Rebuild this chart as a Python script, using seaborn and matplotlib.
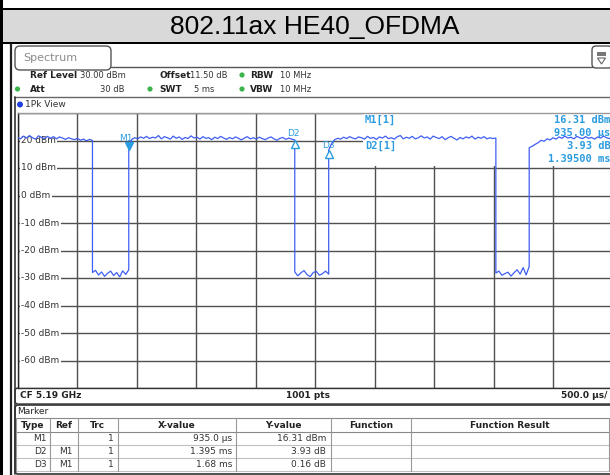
import numpy as np
import pandas as pd
import matplotlib
matplotlib.use("Agg")
import matplotlib.pyplot as plt
import matplotlib.transforms as mtransforms
from matplotlib.patches import Rectangle, FancyBboxPatch, Circle, Polygon
import seaborn as sns

# ---------------- data ----------------
title = "802.11ax HE40_OFDMA"
seg_start_us = [0, 630, 935, 2330, 2615, 4020, 4300]
seg_end_us = [630, 935, 2330, 2615, 4020, 4300, 5000]
seg_a = [21.2, 20.6, 21.6, 20.9, 21.8, 21.0, 20.5, 21.7, 21.1, 20.7, 21.5, 20.8, 21.4,
         20.6, 21.3, 20.9, 20.4, 21.0, 20.6, 20.3, 20.8, 20.1, 20.5, 19.9, 20.4, 20.0]
seg_b = [-28.0, -27.2, -28.9, -27.8, -29.4, -28.3, -27.5, -29.1, -28.0, -29.6, -27.4, -28.7, -27.0]
seg_c = [16.3, 20.4, 21.0, 20.6, 21.3, 20.8, 21.5, 20.7, 21.2, 20.9, 21.8, 20.6, 21.4, 21.0,
         20.5, 21.6, 20.8, 21.3, 20.4, 21.1, 20.7, 21.7, 20.9, 21.2, 20.5, 21.4, 20.8, 21.0,
         20.3, 21.2, 20.7, 21.5, 20.9, 20.4, 21.1, 20.6, 21.3, 20.8, 20.2, 20.9, 21.4, 20.6,
         21.0, 20.5, 21.2, 20.7, 20.3, 20.9, 21.3, 20.6, 20.1, 20.8, 21.1, 20.4, 20.9, 20.5, 20.2]
seg_d = [-27.8, -29.2, -28.1, -27.3, -28.8, -29.5, -28.0, -27.6, -29.0, -28.4, -27.5, -28.6]
seg_e = [16.5, 18.9, 20.3, 20.8, 20.5, 21.2, 20.7, 21.4, 20.9, 20.6, 21.3, 21.0, 20.5, 21.5,
         20.8, 21.1, 20.4, 21.3, 20.9, 21.6, 20.7, 21.0, 20.5, 21.4, 21.8, 20.6, 21.2, 20.8,
         21.5, 20.6, 21.0, 21.7, 20.9, 21.3, 20.5, 21.6, 21.1, 20.7, 21.4, 20.3, 21.0, 21.5,
         20.8, 20.2, 21.1, 20.6, 21.3, 20.9, 21.6, 20.5, 21.2, 20.8, 21.4, 20.6, 21.0, 20.7, 20.9]
seg_f = [-28.2, -27.5, -29.0, -28.4, -27.9, -29.3, -28.1, -27.0, -28.6, -26.2, -28.9, -25.8]
seg_g = [17.4, 17.9, 18.6, 19.2, 20.1, 19.7, 20.6, 20.2, 21.0, 20.5, 21.3, 20.8, 21.6, 20.9,
         21.2, 20.6, 21.5, 21.0, 20.7, 21.4, 20.8, 21.1, 20.5, 21.3, 20.9, 21.6, 21.0, 20.7, 21.2]
seg_levels_dbm = [seg_a, seg_b, seg_c, seg_d, seg_e, seg_f, seg_g]

y_label_values = [20, 10, 0, -10, -20, -30, -40, -50, -60]

marker_type = ["M1", "D2", "D3"]
marker_ref = ["", "M1", "M1"]
marker_trc = ["1", "1", "1"]
marker_x_us = [935.0, 1395.0, 1680.0]     # D markers relative to M1
marker_y_val = [16.31, 3.93, 0.16]        # D markers relative to M1 (dB)
marker_x_text = ["935.0 \u00b5s", "1.395 ms", "1.68 ms"]
marker_y_text = ["16.31 dBm", "3.93 dB", "0.16 dB"]
table_headers = ["Type", "Ref", "Trc", "X-value", "Y-value", "Function", "Function Result"]

# ---------------- build trace table ----------------
times, levels = [], []
for s, e, vals in zip(seg_start_us, seg_end_us, seg_levels_dbm):
    times.extend(np.linspace(s, e, len(vals)))
    levels.extend(vals)
df = pd.DataFrame({"time_us": times, "level_dbm": levels})

m_abs_x = [marker_x_us[0]] + [marker_x_us[0] + v for v in marker_x_us[1:]]
m_abs_y = [marker_y_val[0]] + [marker_y_val[0] + v for v in marker_y_val[1:]]

# ---------------- figure ----------------
sns.set_theme(style="white")
plt.rcParams['font.family'] = ['DejaVu Sans']
W, H = 610, 475
fig = plt.figure(figsize=(W / 100, H / 100), dpi=100)
fig.patch.set_facecolor("white")

bg = fig.add_axes([0, 0, 1, 1], zorder=0)
bg.set_xlim(0, W)
bg.set_ylim(H, 0)
bg.axis("off")
P = bg.transData

def rect(x, y, w, h, fc="none", ec="none", lw=1.0, z=1, **kw):
    bg.add_patch(Rectangle((x, y), w, h, facecolor=fc, edgecolor=ec, lw=lw, zorder=z, **kw))

def rbox(x, y, w, h, ec="#333333", lw=1.0, fc="none", r=4, z=1):
    bg.add_patch(FancyBboxPatch((x, y), w, h, boxstyle=f"round,pad=0,rounding_size={r}",
                                facecolor=fc, edgecolor=ec, lw=lw, zorder=z))

# title band
rect(0, 8, W, 2.2, fc="black", z=2)
rect(3, 10, W - 3, 32, fc="#d9d9d9", z=1)
rect(0, 42, W, 2.2, fc="black", z=2)
rect(0, 0, 3, H, fc="black", z=3)
bg.text(315, 27, title, ha="center", va="center", fontsize=19,
        family=["Liberation Sans", "DejaVu Sans"], color="black", zorder=3)

# panel borders
bg.plot([11, 11], [44, H], color="#222222", lw=1.6, zorder=2)
rbox(15, 46, 96, 24, ec="#555555", lw=1.0, fc="white", r=5)
bg.text(23, 58, "Spectrum", ha="left", va="center", fontsize=8, color="#8a8a8a", zorder=3)
bg.plot([111, 592], [66.5, 66.5], color="#555555", lw=1.0, zorder=2)
rbox(592, 46, 20, 22, ec="#555555", lw=1.0, fc="white", r=4)
rect(597, 52, 9, 4, fc="#777777", z=3)
bg.add_patch(Polygon([[597.5, 58], [605.5, 58], [601.5, 64]], closed=True, facecolor="white",
                     edgecolor="#666666", lw=0.8, zorder=3))

# settings rows
green = "#3cb44b"
def kv(xk, y, key, xv, val, ha_v="left"):
    bg.text(xk, y, key, ha="left", va="center", fontsize=6.5, fontweight="bold", color="#222222", zorder=3)
    bg.text(xv, y, val, ha=ha_v, va="center", fontsize=6.0, color="#333333", zorder=3)

kv(30, 75, "Ref Level", 80, "30.00 dBm")
kv(160, 75, "Offset", 190, "11.50 dB")
kv(250, 75, "RBW", 280, "10 MHz")
kv(30, 89, "Att", 124, "30 dB", ha_v="right")
kv(159, 89, "SWT", 214, "5 ms", ha_v="right")
kv(250, 89, "VBW", 280, "10 MHz")
for cx, cy in [(242, 75), (17.5, 89), (150, 89), (242, 89)]:
    bg.add_patch(Circle((cx, cy), 2.6, facecolor=green, edgecolor="none", zorder=3))

# 1Pk View row
bg.plot([14, 612], [97, 97], color="#666666", lw=1.0, zorder=2)
bg.plot([14.5, 14.5], [97, 474], color="#333333", lw=1.2, zorder=2)
bg.add_patch(Circle((20, 104.5), 3.0, facecolor="#1f3fe0", edgecolor="none", zorder=3))
bg.text(25, 104.5, "1Pk View", ha="left", va="center", fontsize=6.5, color="#333333", zorder=3)

# bottom info bar
rbox(15, 388, 600, 16, ec="#333333", lw=1.0, r=3)
bg.text(20, 396, "CF 5.19 GHz", ha="left", va="center", fontsize=6.5, fontweight="bold", color="#222222")
bg.text(308, 396, "1001 pts", ha="center", va="center", fontsize=6.5, fontweight="bold", color="#222222")
bg.text(607, 396, "500.0 \u00b5s/", ha="right", va="center", fontsize=6.5, fontweight="bold", color="#222222")

# marker table
rbox(15, 405, 600, 69, ec="#333333", lw=1.2, r=3)
bg.text(17, 411.5, "Marker", ha="left", va="center", fontsize=6.5, color="#222222")
col_edges = [16, 50, 78, 117.5, 236, 331, 410.5, 609]
row_edges = [418, 432, 445, 458, 471]
for yy in row_edges:
    bg.plot([col_edges[0], col_edges[-1]], [yy, yy],
            color="#888888" if yy in (418, 432) else "#c0c0c0", lw=0.8, zorder=2)
for xx in col_edges:
    bg.plot([xx, xx], [418, 471], color="#999999", lw=0.8, zorder=2)
for i, hdr in enumerate(table_headers):
    bg.text((col_edges[i] + col_edges[i + 1]) / 2, 425, hdr, ha="center", va="center",
            fontsize=6.5, fontweight="bold", color="#222222")
cell_right = [47, 73, 114, 232, 326]
for r in range(3):
    ymid = (row_edges[r + 1] + row_edges[r + 2]) / 2
    vals = [marker_type[r], marker_ref[r], marker_trc[r], marker_x_text[r], marker_y_text[r]]
    for xr, v in zip(cell_right, vals):
        bg.text(xr, ymid, v, ha="right", va="center", fontsize=6.5, color="#333333")

# ---------------- spectrum plot ----------------
L, T, R, B = 17.5, 113, 612.5, 388
ax = fig.add_axes([L / W, 1 - B / H, (R - L) / W, (B - T) / H], zorder=1)
ax.set_facecolor("white")
ax.set_xlim(0, 5000)
ax.set_ylim(-70, 30)
ax.set_xticks(np.arange(0, 5001, 500))
ax.set_yticks(np.arange(-70, 31, 10))
ax.set_axisbelow(True)
ax.grid(True, color="#505050", lw=1.0)
ax.tick_params(length=0, labelbottom=False, labelleft=False)
for side, c in [("left", "#222222"), ("top", "#999999"), ("bottom", "#333333"), ("right", "#333333")]:
    ax.spines[side].set_color(c)
    ax.spines[side].set_linewidth(1.0)

# white panel behind marker readout (covers grid)
ax.add_patch(Rectangle((363, 114), 260, 52, transform=P, facecolor="white",
                       edgecolor="none", zorder=1))

blend = mtransforms.blended_transform_factory(ax.transAxes, ax.transData)
for v in y_label_values:
    ax.text(0.006, v, f"{v} dBm", transform=blend, ha="left", va="center", fontsize=6.5,
            color="#333333", zorder=3,
            bbox=dict(boxstyle="square,pad=0.15", facecolor="white", edgecolor="none"))

trace_col = "#3f5ff2"
sns.lineplot(data=df, x="time_us", y="level_dbm", ax=ax, estimator=None, sort=False,
             color=trace_col, lw=0.9, zorder=5)
ax.set_xlabel("")
ax.set_ylabel("")

mcol = "#2b9ce0"
up = mtransforms.offset_copy(ax.transData, fig=fig, y=3.0, units="points")
down = mtransforms.offset_copy(ax.transData, fig=fig, y=-3.0, units="points")
ax.plot([m_abs_x[0]], [m_abs_y[0]], marker="v", ms=6, color=mcol, mec=mcol,
        linestyle="none", transform=up, zorder=6, clip_on=False)
ax.plot(m_abs_x[1:], m_abs_y[1:], marker="^", ms=6, mfc="white", mec=mcol, mew=1.0,
        linestyle="none", transform=down, zorder=6, clip_on=False)
lab_offsets = [(-2, 5.5), (-1, 1.5), (0, 0.0)]
for name, x, y, (dx, dy) in zip(marker_type, m_abs_x, m_abs_y, lab_offsets):
    tr = mtransforms.offset_copy(ax.transData, fig=fig, x=dx, y=dy, units="points")
    ax.text(x, y, name, transform=tr, ha="center", va="bottom", fontsize=6.5, color=mcol, zorder=4)

mono = dict(family=["DejaVu Sans Mono"], fontweight="bold", fontsize=7.5, color=mcol, zorder=4)
ax.text(365, 120, f"{marker_type[0]}[1]", transform=P, ha="left", va="center", **mono)
ax.text(365, 146, f"{marker_type[1]}[1]", transform=P, ha="left", va="center", **mono)
ax.text(610.5, 120, f"{marker_y_val[0]:.2f} dBm", transform=P, ha="right", va="center", **mono)
ax.text(610.5, 133, f"{marker_x_us[0]:.2f} \u00b5s", transform=P, ha="right", va="center", **mono)
ax.text(610.5, 146, f"{marker_y_val[1]:.2f} dB", transform=P, ha="right", va="center", **mono)
ax.text(610.5, 159, f"{marker_x_us[1] / 1000:.5f} ms", transform=P, ha="right", va="center", **mono)

fig.savefig("out.png", dpi=100)
